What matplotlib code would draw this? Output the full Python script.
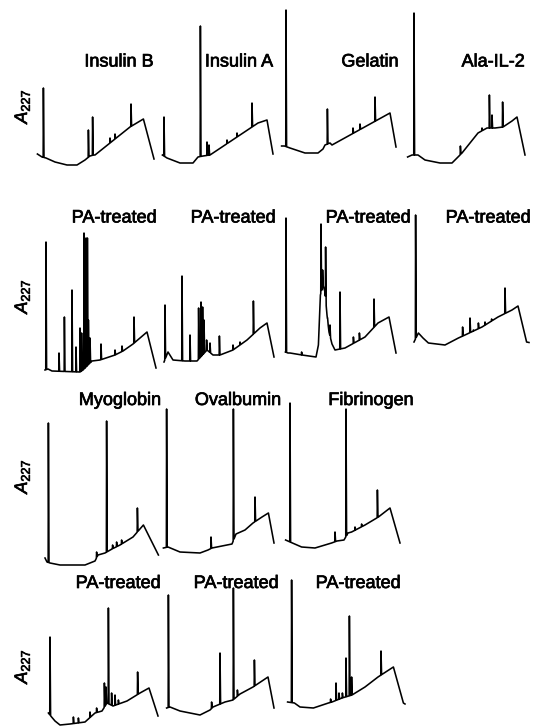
import numpy as np
import matplotlib
matplotlib.use("Agg")
import matplotlib.pyplot as plt
import matplotlib.patheffects as pe

plt.rcParams['font.family'] = ['Liberation Sans', 'DejaVu Sans']
plt.rcParams['mathtext.fontset'] = 'custom'
plt.rcParams['mathtext.it'] = 'Liberation Sans:italic'
plt.rcParams['mathtext.rm'] = 'Liberation Sans'

# ---------------- data: retention time (min) / absorbance (mAU) ----------------
# Row 1: native
insb_base_t = [1.2, 3.5, 5.5, 10, 16, 21, 25, 26.2, 27.5, 29.3, 30, 47.5, 54.2, 59.5]
insb_base_a = [16, 13, 12, 8, 5, 5, 10, 12, 14, 15, 15, 43, 51, 11]
insb_peak_t = [4.2, 26.7, 28.8, 37.5, 40, 48]
insb_peak_a = [82, 40, 53, 32, 36, 66]

insa_base_t = [1.2, 3.5, 10, 16.5, 19, 21.5, 25, 49, 53.5, 56.5]
insa_base_a = [15, 12, 7, 7, 13, 14, 15, 47, 50, 16]
insa_peak_t = [2, 20.2, 23.5, 24.5, 33.5, 38.5, 46]
insa_peak_a = [53, 144, 28, 25, 30, 37, 67]

gel_base_t = [0.8, 2.2, 5, 12.5, 19, 21.5, 22.5, 25, 26, 55, 58]
gel_base_a = [24, 24, 22, 17, 17, 21, 25, 27, 25, 57, 23]
gel_peak_t = [3, 23.7, 36.5, 40, 47.5]
gel_peak_a = [160, 61, 42, 46, 73]

il2_base_t = [1.3, 3.5, 6.5, 10, 17.5, 23.5, 26.5, 28.5, 36.5, 41, 45, 49, 53.5, 56, 60]
il2_base_a = [13, 15, 15, 10, 7, 7, 13, 17, 37, 42, 42, 43, 49, 53, 15]
il2_peak_t = [4.5, 27.7, 38.5, 42.2, 43.5, 48.8]
il2_peak_a = [157, 24, 42, 75, 55, 68]

# Row 2: PA-treated
pinsb_base_t = [1, 2.5, 4.5, 18.5, 20, 24.5, 28.5, 36, 40, 45, 48.5, 52, 56.5]
pinsb_base_a = [10, 11, 9, 8, 10, 19, 20, 25, 29, 36, 42, 48, 12]
pinsb_peak_t = [1.5, 8, 10.7, 14.5, 16.5, 18.5, 19.3, 20.5, 21.5, 22.2, 22.7, 23.5, 29, 36, 39.5, 45.5]
pinsb_peak_a = [138, 27, 63, 90, 33, 52, 47, 147, 142, 142, 60, 42, 36, 30, 34, 63]

pinsa_base_t = [1, 3, 5.5, 11.5, 17.5, 22.5, 25.5, 29, 35.5, 42.5, 49, 52.5, 56]
pinsa_base_a = [18, 28, 20, 19, 19, 30, 25, 25, 30, 40, 52, 57, 23]
pinsa_peak_t = [1.5, 10, 14, 18.3, 19.5, 20.3, 21, 22.3, 24, 28.7, 35.5, 39, 45.7]
pinsa_peak_a = [75, 104, 45, 72, 78, 73, 60, 40, 37, 44, 35, 38, 79]

pgel_base_t = [0.7, 2, 3, 9, 16, 17.2, 18.2, 19.5, 20.5, 21.5, 22.5, 24, 25.5, 30.5, 40.5, 47, 52.5, 56]
pgel_base_a = [28, 27, 27, 25, 23, 35, 85, 95, 88, 65, 48, 36, 30, 32, 43, 57, 63, 27]
pgel_peak_t = [1, 8.8, 18.5, 19.3, 20.8, 21.8, 23, 28, 34.7, 37.7, 45]
pgel_peak_a = [162, 28, 156, 110, 133, 62, 55, 88, 43, 47, 81]

pil2_base_t = [1, 3.2, 5.5, 8.2, 16.5, 23.2, 26.5, 35, 43, 50, 53, 57.3, 58.5]
pil2_base_a = [38, 47, 42, 37, 35, 42, 45, 53, 63, 70, 74, 38, 37.5]
pil2_peak_t = [1.8, 25.3, 29, 30.7, 33.2, 36.5, 39.8, 46.5]
pil2_peak_a = [165, 53, 62, 50, 57, 58, 61, 92]

# Row 3: native
myo_base_t = [1, 2, 3.5, 8.5, 21, 26, 27.5, 31, 34.5, 38.5, 45, 50.2, 57.7]
myo_base_a = [12, 8, 7, 5, 5, 9, 15, 17, 21, 25, 33, 45, 15]
myo_peak_t = [2.7, 26.8, 31.8, 34.8, 36.8, 39.3, 47.2]
myo_peak_a = [147, 18, 149, 25, 28, 30, 62]

ova_base_t = [1.2, 3.5, 9.5, 19.5, 23.5, 25.5, 35.5, 37.5, 42, 46, 50.5, 53.7, 56.5]
ova_base_a = [22, 23, 18, 17, 20, 22, 26, 36, 40, 47, 53, 57, 27]
ova_peak_t = [2.8, 25, 36.2, 47]
ova_peak_a = [161, 33, 161, 73]

fib_base_t = [1.3, 4.7, 9.3, 16, 24.3, 27, 30.5, 32.5, 34.3, 41, 47.7, 53.5, 58.5]
fib_base_a = [30, 27, 23, 22, 27, 29, 30, 37, 38, 45, 53, 62, 27]
fib_peak_t = [3.5, 26, 31.5, 36, 39.3, 47.2]
fib_peak_a = [167, 38, 161, 43, 46, 80]

# Row 4: PA-treated
pmyo_base_t = [1.2, 2.8, 4.5, 7, 12, 19.5, 24.5, 28, 30.5, 33.5, 40.5, 47, 51.5, 56]
pmyo_base_a = [15, 11, 7, 3, 4, 6, 15, 17, 25, 22, 27, 35, 40, 12]
pmyo_peak_t = [2, 13.7, 16.2, 22, 25.3, 29.2, 30, 31.2, 32.8, 34.5, 36.2, 45.8]
pmyo_peak_a = [91, 11, 10, 16, 20, 45, 41, 120, 35, 33, 28, 56]

pova_base_t = [1.3, 3, 8, 13, 18, 23, 24.5, 30.5, 34.5, 38, 44.5, 52, 55]
pova_base_a = [20, 21, 17, 15, 13, 18, 21, 26, 28, 34, 41, 51, 20]
pova_peak_t = [2.2, 23.8, 28, 34.7, 36.7, 45.2]
pova_peak_a = [133, 26, 75, 140, 38, 68]

pfib_base_t = [1.3, 4.7, 7.5, 14.2, 21.7, 23.5, 28.5, 33.5, 40, 46.5, 54.2, 59.2, 60]
pfib_base_a = [26, 25, 21, 20, 25, 26, 30, 33, 41, 51, 61, 25, 24]
pfib_peak_t = [3.3, 22.8, 25.5, 27, 28.7, 30.5, 32.2, 33.3, 48]
pfib_peak_a = [148, 29, 45, 35, 35, 70, 112, 51, 77]

labels_row1 = ["Insulin B", "Insulin A", "Gelatin", "Ala-IL-2"]
labels_row2 = ["PA-treated"] * 4
labels_row3 = ["Myoglobin", "Ovalbumin", "Fibrinogen"]
labels_row4 = ["PA-treated"] * 3
ylabel = r"$A_{227}$"

# ---------------- layout (pixels) ----------------
FW, FH = 535, 728
fig = plt.figure(figsize=(FW / 100, FH / 100), dpi=100)

rows = [
    (170, 170, [(35, insb_base_t, insb_base_a, insb_peak_t, insb_peak_a),
                (160, insa_base_t, insa_base_a, insa_peak_t, insa_peak_a),
                (280, gel_base_t, gel_base_a, gel_peak_t, gel_peak_a),
                (405, il2_base_t, il2_base_a, il2_peak_t, il2_peak_a)]),
    (380, 180, [(43, pinsb_base_t, pinsb_base_a, pinsb_peak_t, pinsb_peak_a),
                (162, pinsa_base_t, pinsa_base_a, pinsa_peak_t, pinsa_peak_a),
                (284, pgel_base_t, pgel_base_a, pgel_peak_t, pgel_peak_a),
                (412, pil2_base_t, pil2_base_a, pil2_peak_t, pil2_peak_a)]),
    (570, 180, [(43, myo_base_t, myo_base_a, myo_peak_t, myo_peak_a),
                (161, ova_base_t, ova_base_a, ova_peak_t, ova_peak_a),
                (283, fib_base_t, fib_base_a, fib_peak_t, fib_peak_a)]),
    (728, 158, [(46, pmyo_base_t, pmyo_base_a, pmyo_peak_t, pmyo_peak_a),
                (164, pova_base_t, pova_base_a, pova_peak_t, pova_peak_a),
                (285, pfib_base_t, pfib_base_a, pfib_peak_t, pfib_peak_a)]),
]

W = 130  # axes width in px -> 65 min at 2 px/min
D_UP, D_DN = 0.12, 0.3


def trace(bt, ba, pt, pa):
    bt = np.asarray(bt, float)
    ba = np.asarray(ba, float)
    keep = np.ones(len(bt), bool)
    for p in pt:
        keep &= ~((bt > p - D_UP - 1e-6) & (bt < p + D_DN + 1e-6))
    ts = list(bt[keep])
    ys = list(ba[keep])
    for p, a in zip(pt, pa):
        for tt, yy in ((p - D_UP, None), (p, a), (p + D_DN, None)):
            ts.append(tt)
            ys.append(np.interp(tt, bt, ba) if yy is None else yy)
    ts = np.array(ts)
    ys = np.array(ys)
    o = np.argsort(ts, kind="stable")
    return ts[o], ys[o]


for bottom, height, panels in rows:
    for left, bt, ba, pt, pa in panels:
        ax = fig.add_axes([left / FW, 1 - bottom / FH, W / FW, height / FH])
        ax.set_xlim(0, W / 2)
        ax.set_ylim(0, height)
        ax.axis("off")
        t, a = trace(bt, ba, pt, pa)
        ax.plot(t, a, color="black", lw=1.15, clip_on=False,
                solid_joinstyle="round")

# ---------------- text ----------------
def ftext(x, y, s, **kw):
    fig.text(x / FW, 1 - y / FH, s, **kw)

thick = [pe.withStroke(linewidth=0.5, foreground="black")]
lab_kw = dict(ha="center", va="baseline", fontsize=13, color="black",
              path_effects=thick)
for x, s in zip([119, 239, 370, 493], labels_row1):
    ftext(x, 66.5, s, **lab_kw)
for x, s in zip([114, 233, 368, 488], labels_row2):
    ftext(x, 222.5, s, **lab_kw)
for x, s in zip([120, 238, 371], labels_row3):
    ftext(x, 405, s, **lab_kw)
for x, s in zip([118, 236, 358], labels_row4):
    ftext(x, 588, s, **lab_kw)

for y in [106, 296, 476, 666]:
    ftext(22, y, ylabel, ha="center", va="center", rotation=90, fontsize=13,
          path_effects=thick)

fig.savefig("out.png", dpi=100)
